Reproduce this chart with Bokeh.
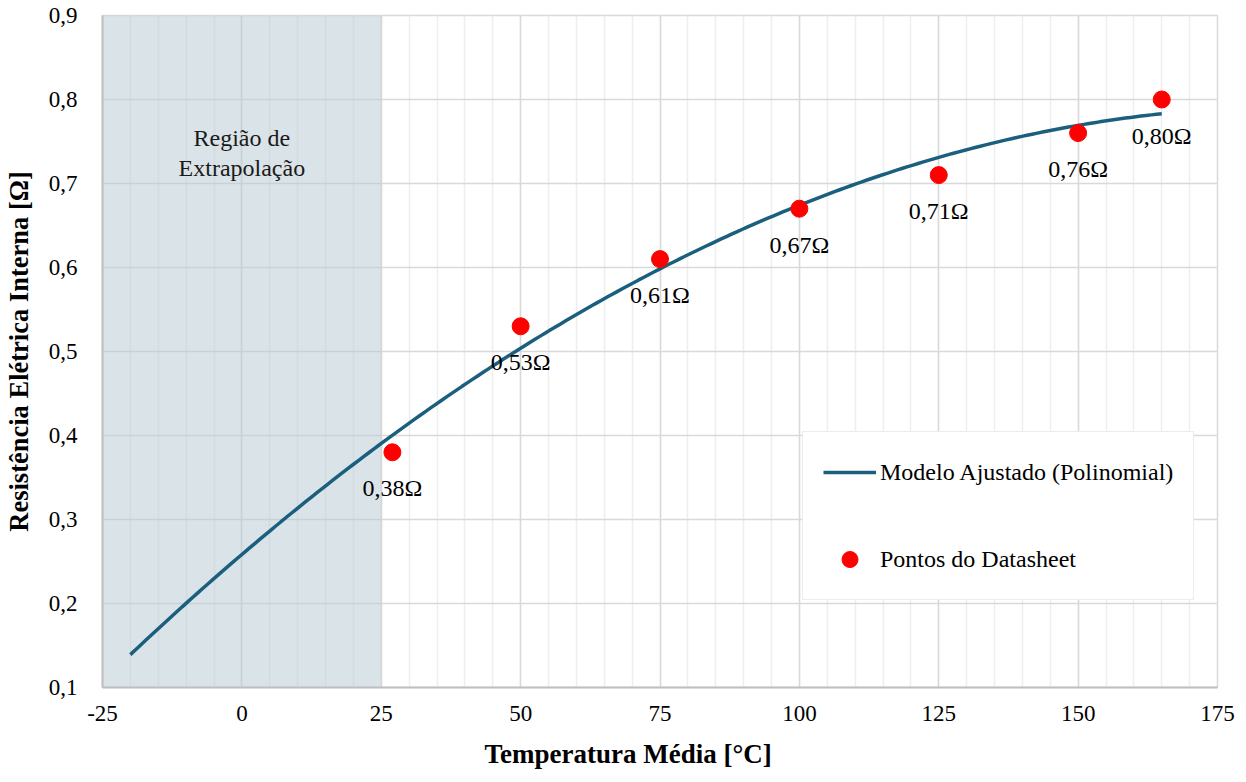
import numpy as np
from bokeh.plotting import figure
from bokeh.models import (ColumnDataSource, FixedTicker, Legend, LegendItem,
                          Label, BoxAnnotation, Title)
from bokeh.core.properties import value
from bokeh.embed import file_html
from bokeh.resources import INLINE

# Datasheet points: mean temperature [°C] vs. internal resistance [Ω]
temp_c = [27, 50, 75, 100, 125, 150, 165]
resist_ohm = [0.38, 0.53, 0.61, 0.67, 0.71, 0.76, 0.80]

x_ticks = [-25, 0, 25, 50, 75, 100, 125, 150, 175]
y_ticks = [0.1, 0.2, 0.3, 0.4, 0.5, 0.6, 0.7, 0.8, 0.9]

extrap_start, extrap_end = -25, 25
model_start = -20

FONT = "Liberation Serif"
LINE_COLOR = "#1b5f7f"

# Polynomial (2nd order) model fitted to the datasheet points
coef = np.polyfit(temp_c, resist_ohm, 2)
x_model = np.linspace(model_start, max(temp_c), 200)
y_model = np.polyval(coef, x_model)

p = figure(width=1246, height=782, output_backend="svg", toolbar_location=None,
           x_range=(-25, 175), y_range=(0.1, 0.9),
           min_border_left=102, min_border_right=29,
           min_border_top=15, min_border_bottom=94)
p.outline_line_color = "#d9d9d9"
p.outline_line_width = 1.5
p.background_fill_color = "white"

# Shaded extrapolation region
p.add_layout(BoxAnnotation(left=extrap_start, right=extrap_end,
                           fill_color="#b9cad3", fill_alpha=0.53,
                           line_color=None, level="underlay"))

model_r = p.line(x_model, y_model, line_color=LINE_COLOR, line_width=3.5)
src = ColumnDataSource(dict(
    x=temp_c, y=resist_ohm,
    lbl=[f"{v:.2f}".replace(".", ",") + "Ω" for v in resist_ohm]))
pts_r = p.scatter("x", "y", source=src, size=17, color="#ff0000")
p.text("x", "y", text="lbl", source=src, y_offset=36,
       text_align="center", text_baseline="middle",
       text_font=value(FONT), text_font_size="24px", text_color="black")

p.add_layout(Label(x=0, y=0.736, text="Região de\nExtrapolação",
                   text_align="center", text_baseline="middle",
                   text_font=FONT, text_font_size="24px",
                   text_color="#1a1a1a", text_line_height=1.15))

# Axes
p.xaxis.ticker = FixedTicker(ticks=x_ticks,
                             minor_ticks=list(range(-25, 176, 5)))
p.yaxis.ticker = FixedTicker(ticks=y_ticks)
p.yaxis.major_label_overrides = {t: f"{t:.1f}".replace(".", ",") for t in y_ticks}
p.xaxis.major_label_overrides = {t: str(t) for t in x_ticks}
for ax in (p.xaxis, p.yaxis):
    ax.major_tick_line_color = None
    ax.minor_tick_line_color = None
    ax.axis_line_color = "#bfbfbf"
    ax.axis_line_width = 2
    ax.major_label_text_font = FONT
    ax.major_label_text_font_size = "23px"
    ax.major_label_text_color = "black"
p.yaxis.major_label_standoff = 19
p.xaxis.major_label_standoff = 12

p.yaxis.axis_label = "Resistência Elétrica Interna [Ω]"
p.yaxis.axis_label_text_font = FONT
p.yaxis.axis_label_text_font_style = "bold"
p.yaxis.axis_label_text_font_size = "26.5px"
p.yaxis.axis_label_standoff = 12
p.yaxis.axis_label_text_color = "black"

x_title = Title(text="Temperatura Média [°C]", align="left", offset=382,
                text_font=FONT, text_font_style="bold",
                text_font_size="27px", text_color="black",
                standoff=27)
p.add_layout(x_title, "below")

# Grid
p.xgrid.grid_line_color = "#d9d9d9"
p.xgrid.grid_line_width = 1.5
p.xgrid.minor_grid_line_color = "#eeeeee"
p.xgrid.minor_grid_line_width = 1.5
p.ygrid.grid_line_color = "#d9d9d9"
p.ygrid.grid_line_width = 1.5

legend = Legend(items=[
    LegendItem(label="Modelo Ajustado (Polinomial)", renderers=[model_r]),
    LegendItem(label="Pontos do Datasheet", renderers=[pts_r]),
], location=(700, 87))
legend.label_text_font = FONT
legend.label_text_font_size = "24px"
legend.label_text_color = "black"
legend.padding = 20
legend.spacing = 47
legend.label_height = 40
legend.glyph_height = 40
legend.glyph_width = 53
legend.label_standoff = 4
legend.margin = 0
legend.border_line_color = "#d9d9d9"
legend.border_line_width = 1.5
legend.background_fill_alpha = 1
p.add_layout(legend)

open("out.html", "w").write(file_html(p, INLINE))
